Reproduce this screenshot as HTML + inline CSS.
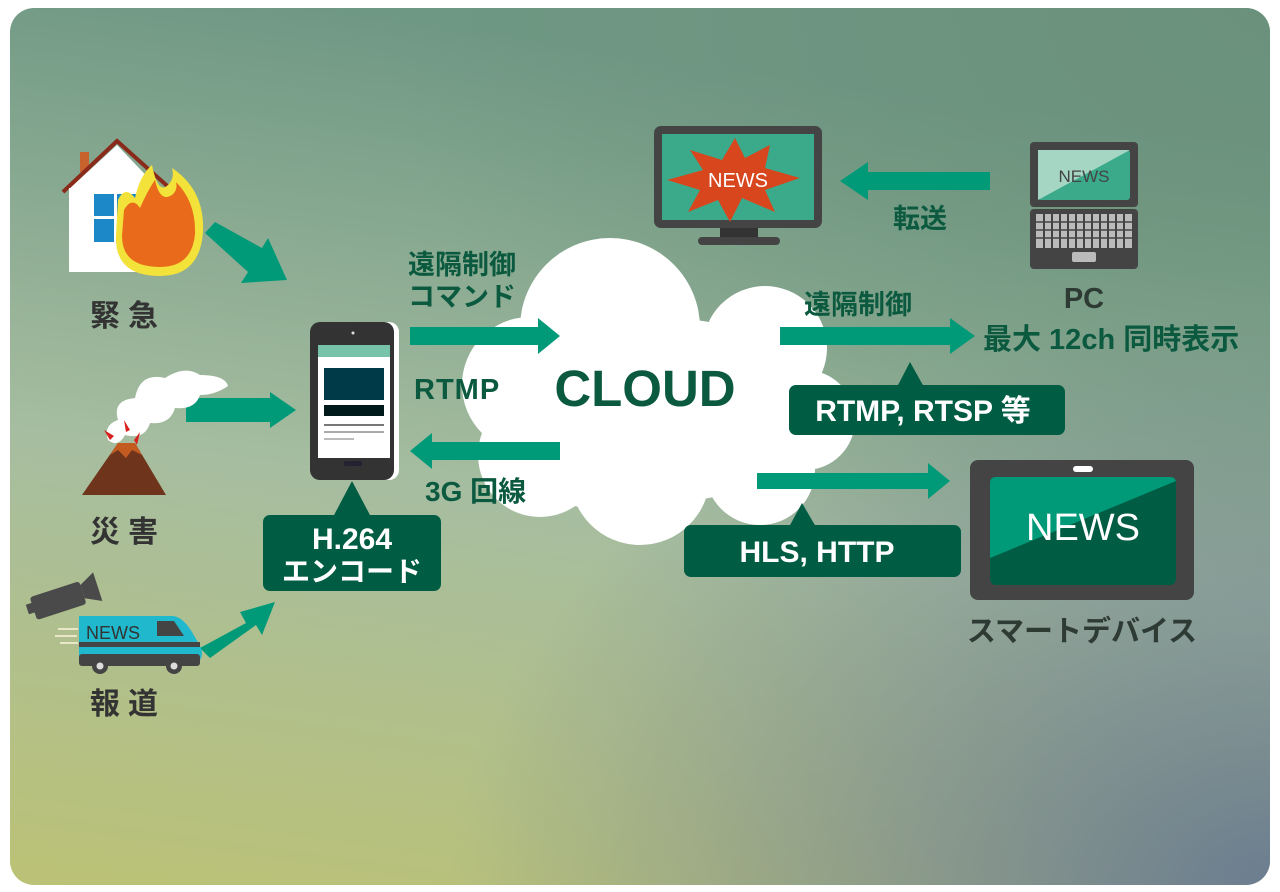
<!DOCTYPE html>
<html><head><meta charset="utf-8"><style>
html,body{margin:0;padding:0;background:#fff;}
svg{display:block;}
text{font-family:"Liberation Sans","Noto Sans CJK JP",sans-serif;font-weight:bold;}
</style></head><body>
<svg width="1280" height="892" viewBox="0 0 1280 892" xmlns="http://www.w3.org/2000/svg">
<defs>
<linearGradient id="bg" x1="0.2" y1="0" x2="0" y2="1">
<stop offset="0" stop-color="#6f9884"/><stop offset="0.5" stop-color="#a6bda0"/><stop offset="1" stop-color="#bcc275"/>
</linearGradient>
<radialGradient id="br" cx="1" cy="1" r="0.65">
<stop offset="0" stop-color="#6a7c90" stop-opacity="1"/><stop offset="1" stop-color="#6a7c90" stop-opacity="0"/>
</radialGradient>
<radialGradient id="tr" cx="1" cy="0" r="0.7">
<stop offset="0" stop-color="#6a907a" stop-opacity="0.9"/><stop offset="1" stop-color="#6a907a" stop-opacity="0"/>
</radialGradient>
<clipPath id="cp"><rect x="10" y="8" width="1260" height="877" rx="24"/></clipPath>
</defs>
<g clip-path="url(#cp)">
<rect x="0" y="0" width="1280" height="892" fill="url(#bg)"/>
<rect x="0" y="0" width="1280" height="892" fill="url(#tr)"/>
<rect x="0" y="0" width="1280" height="892" fill="url(#br)"/>
</g>

<!-- cloud -->
<g fill="#fff">
<circle cx="610" cy="328" r="90"/>
<circle cx="765" cy="348" r="62"/>
<circle cx="805" cy="420" r="50"/>
<circle cx="760" cy="470" r="55"/>
<circle cx="640" cy="475" r="70"/>
<circle cx="540" cy="455" r="62"/>
<circle cx="530" cy="385" r="68"/>
<circle cx="690" cy="410" r="90"/>
<circle cx="600" cy="430" r="80"/>
</g>
<text x="645" y="406" font-size="51" fill="#0b5a40" text-anchor="middle">CLOUD</text>

<!-- arrows -->
<g fill="#009a78">
<polygon points="410,327 538,327 538,318 560,336 538,354 538,345 410,345"/>
<polygon points="560,442 432,442 432,433 410,451 432,469 432,460 560,460"/>
<polygon points="780,327 950,327 950,318 975,336 950,354 950,345 780,345"/>
<polygon points="757,473 928,473 928,463 950,481 928,499 928,489 757,489"/>
<polygon points="990,172 868,172 868,162 840,181 868,200 868,190 990,190"/>
<polygon points="186,398 270,398 270,392 296,410 270,428 270,422 186,422"/>
<polygon points="205,233 215,222 262,248 268,238 287,280 241,283 248,272"/>
<polygon points="200,648 246,623 240,612 275,602 262,635 256,625 210,658"/>
</g>

<!-- labels -->
<g fill="#0b5a40" font-size="27">
<text x="408" y="274">遠隔制御</text>
<text x="408" y="306">コマンド</text>
<text x="414" y="399" font-size="29" letter-spacing="1">RTMP</text>
<text x="425" y="501" font-size="28">3G 回線</text>
<text x="804" y="314">遠隔制御</text>
<text x="893" y="228">転送</text>
<text x="1084" y="308" text-anchor="middle" fill="#2e3a34" font-size="29">PC</text>
<text x="983" y="349" font-size="29">最大 12ch 同時表示</text>
<text x="1082" y="641" text-anchor="middle" fill="#2e3a34" font-size="29">スマートデバイス</text>
<text x="90" y="326" font-size="30" fill="#333" letter-spacing="8">緊急</text>
<text x="90" y="542" font-size="30" fill="#333" letter-spacing="8">災害</text>
<text x="90" y="714" font-size="30" fill="#333" letter-spacing="8">報道</text>
</g>

<!-- boxes -->
<g fill="#005c42">
<rect x="263" y="515" width="178" height="76" rx="7"/>
<polygon points="333,517 352,481 371,517"/>
<rect x="789" y="385" width="276" height="50" rx="7"/>
<polygon points="897,387 910,362 924,387"/>
<rect x="684" y="525" width="277" height="52" rx="7"/>
<polygon points="789,527 802,503 816,527"/>
</g>
<g fill="#fff" text-anchor="middle">
<text x="352" y="549" font-size="30">H.264</text>
<text x="352" y="581" font-size="28">エンコード</text>
<text x="923" y="421" font-size="30">RTMP, RTSP 等</text>
<text x="817" y="562" font-size="30">HLS, HTTP</text>
</g>

<!-- phone -->
<rect x="313" y="322" width="86" height="158" rx="10" fill="#fff"/>
<rect x="310" y="322" width="84" height="158" rx="10" fill="#333"/>
<circle cx="353" cy="333" r="1.5" fill="#ddd"/>
<rect x="318" y="345" width="72" height="113" fill="#fff"/>
<rect x="318" y="345" width="72" height="12" fill="#76c3a9"/>
<rect x="324" y="368" width="60" height="32" fill="#003a48"/>
<rect x="324" y="405" width="60" height="11" fill="#001a1c"/>
<rect x="324" y="424" width="60" height="2" fill="#777"/>
<rect x="324" y="431" width="60" height="2" fill="#aaa"/>
<rect x="324" y="438" width="30" height="2" fill="#bbb"/>
<rect x="344" y="461" width="18" height="5" rx="2" fill="#223"/>

<!-- house -->
<rect x="80" y="152" width="9" height="20" fill="#c9632e"/>
<polygon points="68,190 117,145 160,190" fill="#fff"/>
<polyline points="63,192 117,141 174,192" fill="none" stroke="#8a2a1a" stroke-width="4"/>
<rect x="69" y="188" width="96" height="84" fill="#fff"/>
<rect x="94" y="194" width="44" height="48" fill="#1c88c8"/>
<rect x="94" y="216" width="44" height="3" fill="#fff"/>
<rect x="114" y="194" width="3" height="48" fill="#fff"/>
<path d="M118,200 Q125,185 135,198 Q140,175 152,165 Q158,195 168,185 Q175,178 172,168 Q205,190 203,232 Q200,276 160,276 Q114,276 116,235 Z" fill="#f2e23a"/>
<path d="M124,210 Q132,196 140,208 Q148,190 155,180 Q160,203 172,195 Q178,190 176,182 Q196,202 195,234 Q192,267 160,267 Q122,267 122,236 Z" fill="#e86a1a"/>

<!-- volcano -->
<polygon points="82,495 118,443 135,443 166,495" fill="#6e351c"/>
<polygon points="110,455 118,443 135,443 142,455 132,450 126,458 118,450" fill="#c35a20"/>
<path d="M108,440 Q103,425 118,420 Q112,400 135,398 Q140,372 165,378 Q185,365 200,375 Q225,375 228,386 Q215,395 200,395 Q195,410 175,408 Q170,425 150,423 Q145,440 125,435 Q118,448 108,440 Z" fill="#fff"/>
<path d="M110,440 L104,430 L114,436 Z M126,432 L124,420 L130,430 Z M134,440 L140,432 L137,445 Z" fill="#d8201e"/>

<!-- van + camera -->
<g transform="rotate(-18 60 600)"><rect x="32" y="588" width="52" height="24" rx="3" fill="#4a4a4a"/><polygon points="84,592 100,584 100,614 84,606" fill="#4a4a4a"/><rect x="26" y="594" width="8" height="10" fill="#4a4a4a"/></g>
<rect x="58" y="628" width="20" height="2" fill="#e8e8c8"/><rect x="55" y="635" width="22" height="2" fill="#e8e8c8"/><rect x="60" y="642" width="18" height="2" fill="#e8e8c8"/>
<path d="M79,616 L172,616 Q182,616 192,632 L200,646 Q204,654 200,660 L79,660 Z" fill="#1fb8cc"/>
<rect x="79" y="642" width="121" height="5" fill="#444"/>
<rect x="79" y="654" width="121" height="12" rx="3" fill="#444"/>
<path d="M157,621 L174,621 L184,636 L157,636 Z" fill="#444"/>
<text x="86" y="639" font-size="18" fill="#333" style="font-weight:normal">NEWS</text>
<circle cx="100" cy="666" r="8" fill="#444"/><circle cx="100" cy="666" r="3.5" fill="#ddd"/>
<circle cx="174" cy="666" r="8" fill="#444"/><circle cx="174" cy="666" r="3.5" fill="#ddd"/>

<!-- monitor -->
<rect x="654" y="126" width="168" height="102" rx="7" fill="#444"/>
<rect x="662" y="134" width="152" height="86" fill="#3aaa8a"/>
<polygon points="667,180 703,170 690,150 722,160 735,138 745,158 770,145 765,168 800,178 765,190 775,212 742,198 730,222 718,200 688,212 700,190" fill="#d8461e"/>
<text x="738" y="187" font-size="20" fill="#fff" text-anchor="middle" style="font-weight:normal">NEWS</text>
<rect x="720" y="228" width="38" height="10" fill="#333"/>
<rect x="698" y="237" width="82" height="8" rx="4" fill="#444"/>

<!-- laptop -->
<rect x="1030" y="142" width="108" height="65" rx="4" fill="#444"/>
<rect x="1038" y="150" width="92" height="50" rx="3" fill="#3aaa8a"/>
<polygon points="1038,150 1130,150 1038,200" fill="#a5d6c4"/>
<text x="1084" y="182" font-size="17" fill="#444" text-anchor="middle" style="font-weight:normal">NEWS</text>
<rect x="1030" y="209" width="108" height="60" rx="4" fill="#444"/>
<rect x="1036" y="214" width="96" height="34" fill="#bbb"/>
<g stroke="#444" stroke-width="1.5">
<line x1="1036" y1="222" x2="1132" y2="222"/><line x1="1036" y1="230" x2="1132" y2="230"/><line x1="1036" y1="238" x2="1132" y2="238"/>
</g>
<g stroke="#444" stroke-width="2"><line x1="1044" y1="214" x2="1044" y2="248"/><line x1="1052" y1="214" x2="1052" y2="248"/><line x1="1060" y1="214" x2="1060" y2="248"/><line x1="1068" y1="214" x2="1068" y2="248"/><line x1="1076" y1="214" x2="1076" y2="248"/><line x1="1084" y1="214" x2="1084" y2="248"/><line x1="1092" y1="214" x2="1092" y2="248"/><line x1="1100" y1="214" x2="1100" y2="248"/><line x1="1108" y1="214" x2="1108" y2="248"/><line x1="1116" y1="214" x2="1116" y2="248"/><line x1="1124" y1="214" x2="1124" y2="248"/></g>
<rect x="1072" y="252" width="24" height="10" rx="2" fill="#bbb"/>

<!-- tablet -->
<rect x="970" y="460" width="224" height="140" rx="8" fill="#444"/>
<rect x="1073" y="466" width="20" height="6" rx="3" fill="#fff"/>
<rect x="990" y="477" width="186" height="108" rx="6" fill="#005c42"/>
<path d="M996,477 L1170,477 Q1176,477 1176,483 L1176,481 L990,558 L990,483 Q990,477 996,477 Z" fill="#009a78"/>
<text x="1083" y="540" font-size="38" fill="#fff" text-anchor="middle" style="font-weight:normal">NEWS</text>
</svg>
</body></html>
